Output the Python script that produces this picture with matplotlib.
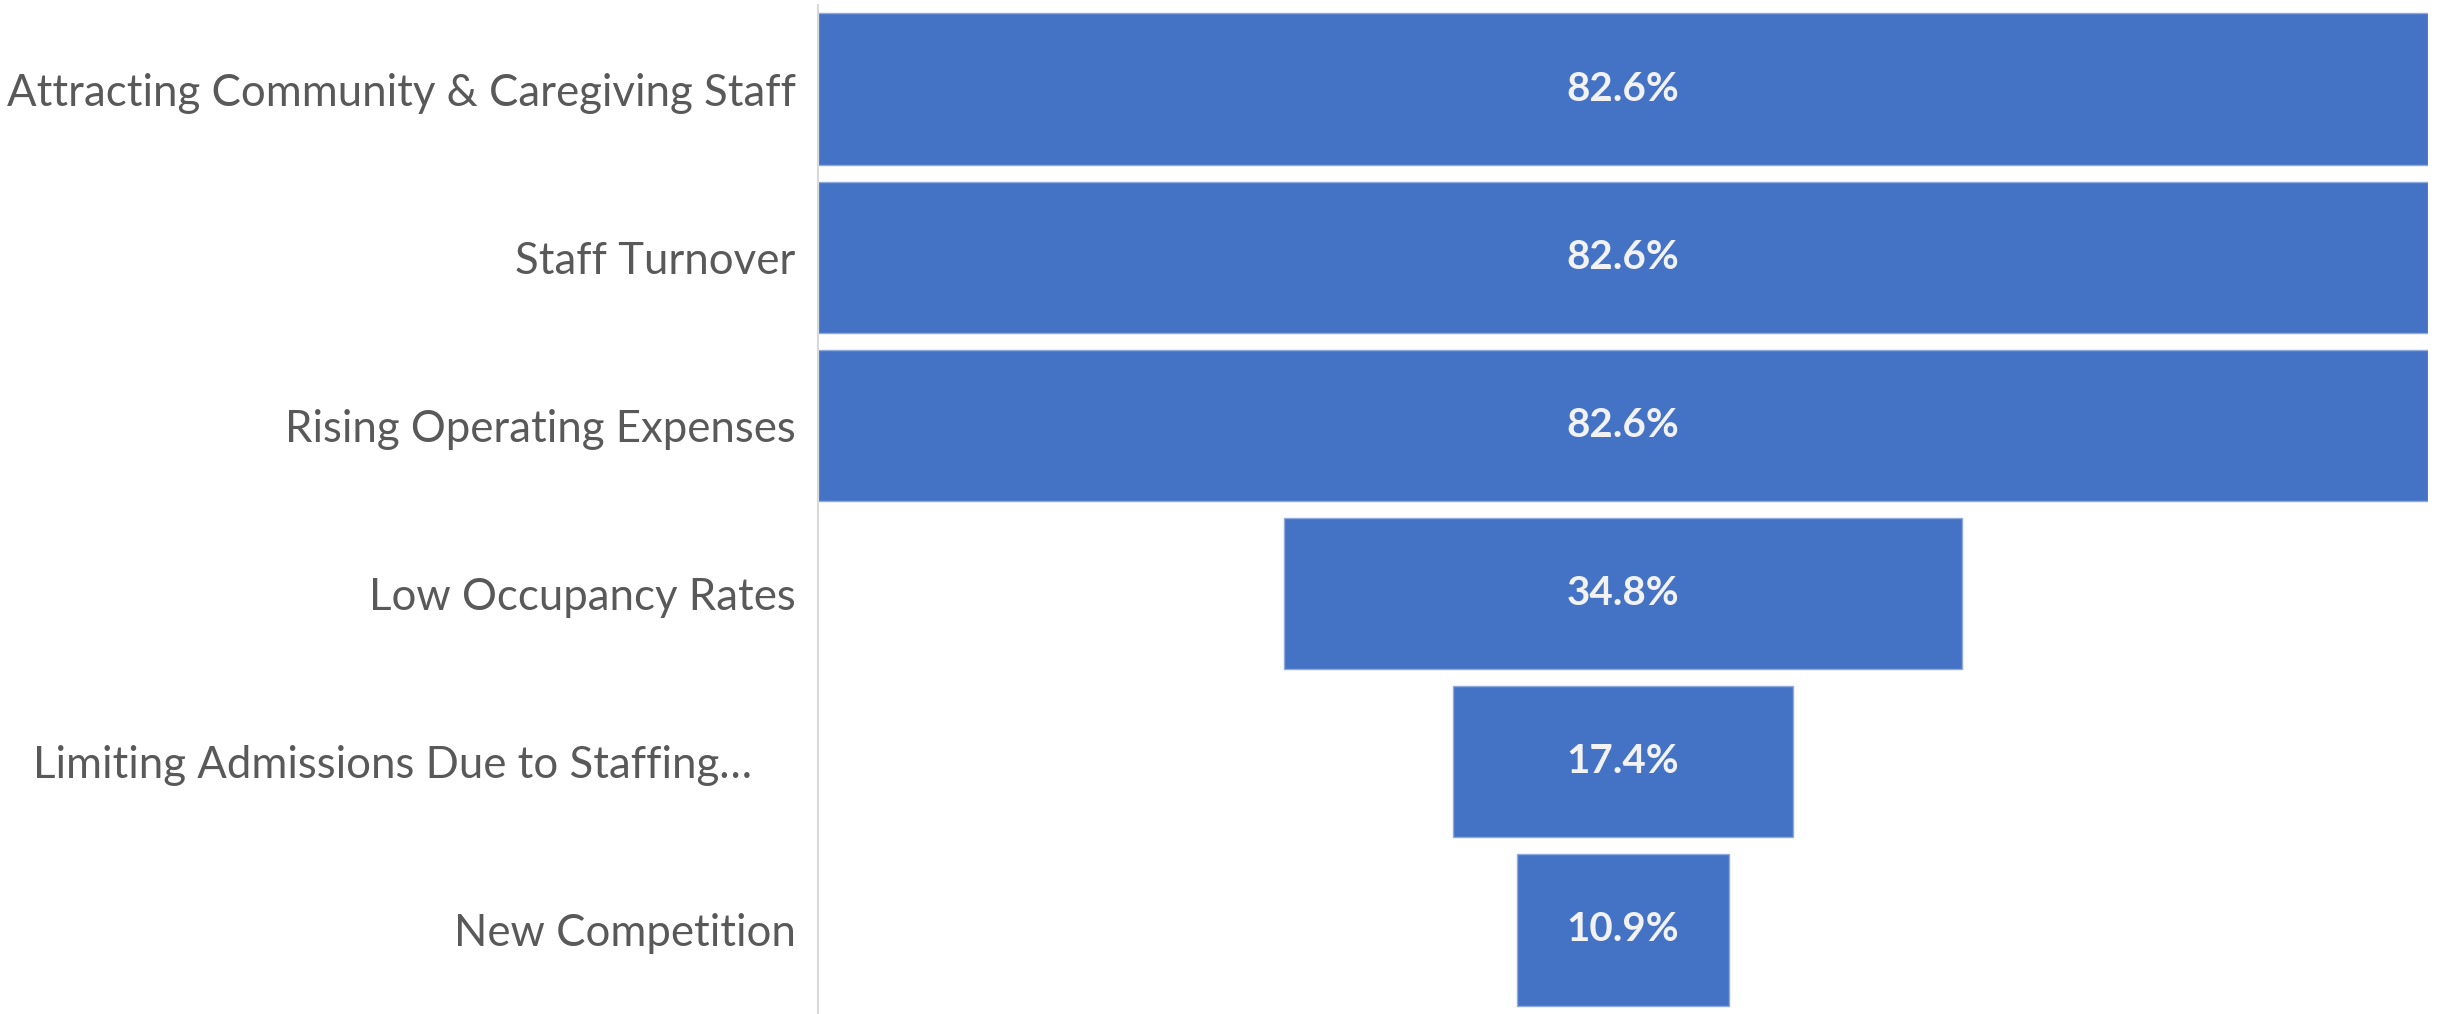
import numpy as np
import matplotlib
matplotlib.use("Agg")
import matplotlib.pyplot as plt
import matplotlib.transforms as mtransforms

categories = [
    "Attracting Community & Caregiving Staff",
    "Staff Turnover",
    "Rising Operating Expenses",
    "Low Occupancy Rates",
    "Limiting Admissions Due to Staffing…",
    "New Competition",
]
values = [82.6, 82.6, 82.6, 34.8, 17.4, 10.9]
value_labels = ["82.6%", "82.6%", "82.6%", "34.8%", "17.4%", "10.9%"]

BAR = "#4472C4"
TXT = "#595959"

plt.rcParams["font.family"] = ["Lato", "DejaVu Sans"]

fig = plt.figure(figsize=(24.4, 10.14), dpi=100)
ax = fig.add_axes([0.3352, 0.0, 0.6600, 0.995])

vals = np.array(values)
y = np.arange(len(categories))
# funnel: bars centred on zero
ax.barh(y, vals, left=-vals / 2, height=0.9, color=BAR,
        edgecolor="#8FAADC", linewidth=1.0)

for yi, lab in zip(y, value_labels):
    ax.text(0, yi, lab, ha="center", va="center", color="#F2F2F2",
            fontsize=29, fontweight="bold")

ax.set_xlim(-max(values) / 2, max(values) / 2)
ax.set_ylim(len(categories) - 0.5, -0.5)
ax.set_yticks(y)
ax.set_yticklabels(categories, fontsize=31.5, color=TXT)
ax.tick_params(axis="y", length=0, pad=16)
ax.set_xticks([])

# the truncated label sits a little further left
lbl = ax.get_yticklabels()[4]
lbl.set_transform(lbl.get_transform() +
                  mtransforms.ScaledTranslation(-44 / 100, 0, fig.dpi_scale_trans))

for s in ["top", "right", "bottom"]:
    ax.spines[s].set_visible(False)
ax.spines["left"].set_color("#D9D9D9")
ax.spines["left"].set_linewidth(1.5)

fig.savefig("out.png", dpi=100)
